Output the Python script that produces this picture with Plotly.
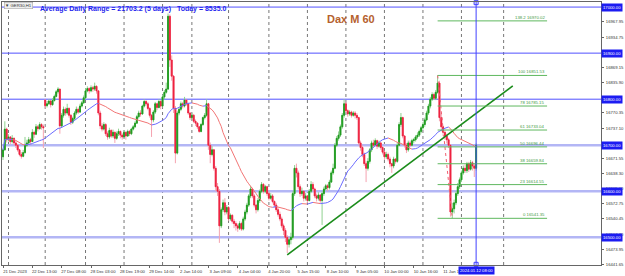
import numpy as np
import pandas as pd
import plotly.graph_objects as go

# ---------------- data ----------------
first_open = 16675
gap_bars = [23]
gap_opens = [16798]

closes = [
    16690, 16735, 16712, 16718, 16708, 16715, 16705, 16700, 16690, 16680, 16676, 16684, 16700, 16705, 16712, 16708,
    16728, 16724, 16740, 16736, 16745, 16740, 16738, 16786, 16790, 16796, 16788, 16797, 16806, 16816, 16822, 16742,
    16765, 16778, 16770, 16780, 16765, 16750, 16758, 16770, 16778, 16772, 16785, 16792, 16803, 16818, 16823, 16818,
    16825, 16822, 16828, 16818, 16770, 16742, 16735, 16745, 16725, 16718, 16732, 16720, 16728, 16715, 16725, 16730,
    16722, 16718, 16728, 16720, 16730, 16725, 16735, 16740, 16748, 16762, 16770, 16768, 16785, 16795, 16790, 16780,
    16765, 16755, 16772, 16790, 16782, 16795, 16785, 16805, 16815, 16822, 16980, 16885, 16850, 16780, 16683, 16770,
    16778, 16790, 16785, 16798, 16790, 16770, 16760, 16765, 16752, 16748, 16740, 16730, 16745, 16760, 16765, 16790,
    16700, 16680, 16690, 16650, 16610, 16600, 16525, 16560, 16575, 16555, 16565, 16540, 16548, 16535, 16530, 16525,
    16520, 16530, 16518, 16540, 16555, 16570, 16590, 16605, 16590, 16570, 16560, 16580, 16600, 16615, 16600, 16610,
    16595, 16585, 16590, 16578, 16570, 16560, 16550, 16540, 16525, 16515, 16500, 16485, 16495, 16500, 16595, 16650,
    16640, 16610, 16595, 16600, 16585, 16590, 16580, 16600, 16615, 16605, 16590, 16585, 16592, 16580, 16595, 16605,
    16612, 16608, 16620, 16640, 16650, 16700, 16715, 16722, 16740, 16765, 16790, 16775, 16768, 16772, 16765, 16770,
    16765, 16760, 16705, 16695, 16680, 16660, 16650, 16665, 16690, 16705, 16700, 16710, 16698, 16705, 16695, 16685,
    16675, 16680, 16670, 16660, 16655, 16670, 16665, 16700, 16745, 16760, 16720, 16700, 16690, 16705, 16700, 16710,
    16712, 16718, 16722, 16730, 16738, 16745, 16755, 16770, 16785, 16800, 16810, 16802, 16815, 16835, 16760, 16740,
    16728, 16720, 16712, 16700, 16555, 16562, 16575, 16595, 16610, 16625, 16640, 16650, 16645, 16660, 16648, 16662,
    16655, 16650, 16700,
]
highs = [
    16695, 16752, 16738, 16724, 16720, 16722, 16717, 16710, 16703, 16692, 16685, 16690, 16718, 16712, 16718, 16716,
    16735, 16732, 16746, 16744, 16750, 16748, 16745, 16800, 16796, 16800, 16798, 16802, 16810, 16820, 16826, 16822,
    16770, 16784, 16782, 16790, 16782, 16768, 16762, 16774, 16784, 16782, 16790, 16796, 16808, 16824, 16828, 16826,
    16830, 16829, 16836, 16830, 16820, 16775, 16748, 16750, 16748, 16730, 16738, 16735, 16734, 16730, 16730, 16736,
    16732, 16726, 16732, 16730, 16734, 16733, 16738, 16744, 16752, 16766, 16775, 16776, 16788, 16800, 16798, 16794,
    16782, 16768, 16776, 16794, 16792, 16800, 16798, 16810, 16820, 16836, 16986, 16984, 16895, 16852, 16785, 16775,
    16782, 16795, 16794, 16805, 16800, 16792, 16772, 16770, 16768, 16756, 16750, 16742, 16748, 16762, 16770, 16800,
    16792, 16706, 16698, 16692, 16655, 16618, 16605, 16565, 16582, 16585, 16570, 16568, 16552, 16550, 16540, 16535,
    16530, 16535, 16534, 16545, 16560, 16575, 16594, 16612, 16608, 16594, 16572, 16585, 16604, 16620, 16618, 16614,
    16612, 16600, 16596, 16594, 16580, 16575, 16565, 16556, 16545, 16530, 16520, 16505, 16500, 16510, 16600, 16657,
    16660, 16645, 16615, 16608, 16602, 16596, 16592, 16605, 16622, 16620, 16608, 16595, 16598, 16594, 16600, 16610,
    16616, 16616, 16625, 16645, 16660, 16705, 16720, 16730, 16745, 16770, 16800, 16795, 16778, 16776, 16775, 16774,
    16774, 16770, 16762, 16710, 16700, 16684, 16665, 16672, 16694, 16710, 16712, 16715, 16712, 16710, 16708, 16698,
    16688, 16686, 16684, 16675, 16662, 16675, 16672, 16705, 16750, 16770, 16762, 16722, 16705, 16710, 16710, 16714,
    16716, 16722, 16728, 16734, 16742, 16750, 16760, 16775, 16790, 16805, 16815, 16814, 16820, 16851.53, 16840, 16770,
    16742, 16732, 16725, 16716, 16702, 16575, 16582, 16600, 16618, 16630, 16645, 16656, 16658, 16664, 16664, 16668,
    16666, 16660, 16704,
]
lows = [
    16668, 16688, 16706, 16708, 16702, 16704, 16700, 16694, 16686, 16676, 16671, 16674, 16682, 16696, 16702, 16702,
    16718, 16716, 16722, 16730, 16734, 16734, 16694, 16780, 16782, 16788, 16782, 16786, 16795, 16804, 16812, 16725,
    16738, 16760, 16764, 16766, 16760, 16744, 16746, 16754, 16766, 16768, 16770, 16782, 16790, 16800, 16815, 16812,
    16815, 16816, 16818, 16812, 16765, 16735, 16730, 16732, 16720, 16712, 16714, 16716, 16716, 16705, 16712, 16720,
    16715, 16712, 16716, 16712, 16718, 16720, 16722, 16732, 16738, 16746, 16758, 16762, 16766, 16782, 16786, 16776,
    16760, 16718, 16750, 16768, 16776, 16780, 16778, 16782, 16800, 16812, 16820, 16870, 16840, 16770, 16661, 16680,
    16765, 16774, 16780, 16782, 16786, 16766, 16755, 16755, 16748, 16742, 16735, 16727, 16728, 16742, 16756, 16762,
    16690, 16661, 16676, 16645, 16600, 16590, 16488, 16520, 16555, 16548, 16550, 16536, 16536, 16530, 16520, 16515,
    16512, 16516, 16514, 16515, 16536, 16550, 16566, 16585, 16585, 16565, 16552, 16556, 16575, 16596, 16595, 16596,
    16590, 16580, 16582, 16574, 16565, 16555, 16545, 16535, 16520, 16505, 16490, 16466, 16478, 16485, 16495, 16590,
    16630, 16604, 16588, 16590, 16578, 16580, 16575, 16578, 16596, 16600, 16585, 16578, 16580, 16575, 16527, 16590,
    16602, 16600, 16604, 16618, 16636, 16648, 16696, 16710, 16718, 16736, 16760, 16770, 16762, 16764, 16760, 16762,
    16758, 16755, 16700, 16688, 16674, 16655, 16620, 16645, 16660, 16685, 16694, 16698, 16692, 16695, 16690, 16680,
    16668, 16670, 16665, 16652, 16640, 16650, 16660, 16662, 16698, 16740, 16715, 16695, 16683, 16686, 16696, 16698,
    16704, 16708, 16714, 16718, 16726, 16734, 16740, 16752, 16766, 16780, 16796, 16798, 16798, 16812, 16752, 16730,
    16720, 16712, 16704, 16694, 16545, 16541.35, 16552, 16570, 16590, 16605, 16620, 16636, 16640, 16640, 16642, 16645,
    16645, 16631, 16645,
]

x_tick_bars = [0, 16, 32, 48, 64, 80, 96, 112, 128, 144, 160, 176, 192, 208, 224, 240]
x_tick_text = ["21 Dec 2023", "22 Dec 13:00", "27 Dec 08:00", "28 Dec 03:00", "28 Dec 19:00",
               "29 Dec 14:00", "2 Jan 14:00", "3 Jan 09:00", "4 Jan 04:00", "4 Jan 20:00",
               "5 Jan 15:00", "8 Jan 10:00", "9 Jan 05:00", "10 Jan 00:00", "10 Jan 16:00",
               "11 Jan 11:00"]
day_start_bars = [3, 23, 45, 66, 87, 103, 123, 145, 166, 187, 208, 229, 250, 273]

y_tick_vals = [16967.95, 16934.75, 16869.15, 16835.90, 16770.35, 16737.10, 16671.55,
               16638.30, 16605.00, 16572.75, 16540.45, 16507.20, 16473.95, 16441.65]
strong_levels = [17000, 16900, 16800]
soft_levels = [16700, 16600, 16500]

fib_names = ["138.2", "100", "78", "61", "50", "38", "23", "0"]
fib_prices = [16970.02, 16851.53, 16785.15, 16733.04, 16696.44, 16659.84, 16614.55, 16541.35]
fib_from_bar = 237
fib_to_bar = 296.7
fib_low_bar = 245

trend_bars = [155, 278]
trend_prices = [16462, 16829]

current_bar = 258
current_label = "2024.01.12 08:00"
ma_period = 30

title_text = "Average Daily Range = 21703.2 (5 days)   Today = 8535.0"
symbol_text = "\u25BC GER30,H1"
chart_name = "Dax M 60"

# ---------------- build ----------------
n = len(closes)
bars = list(range(n))
opens = [first_open] + closes[:-1]
for b, o in zip(gap_bars, gap_opens):
    opens[b] = o
highs = [max(h, o, c) for h, o, c in zip(highs, opens, closes)]
lows = [min(l, o, c) for l, o, c in zip(lows, opens, closes)]
body_hi = [max(o, c) for o, c in zip(opens, closes)]
body_lo = [min(o, c) for o, c in zip(opens, closes)]

ma = pd.Series(closes, dtype=float).rolling(ma_period, min_periods=1).mean().tolist()
up = [ma[i + 1] >= ma[i] for i in range(n - 1)]
ma_blue = [None] * n
ma_red = [None] * n
for i, u in enumerate(up):
    tgt = ma_blue if u else ma_red
    tgt[i] = ma[i]
    tgt[i + 1] = ma[i + 1]

Y0, Y1 = 16440, 17011
X0, X1 = -0.55, 326.1

fig = go.Figure()

# wicks (light)
fig.add_trace(go.Candlestick(
    x=bars, open=opens, high=highs, low=lows, close=closes,
    increasing=dict(line=dict(color="#8fd18f", width=1), fillcolor="#8fd18f"),
    decreasing=dict(line=dict(color="#f5a3b0", width=1), fillcolor="#f5a3b0"),
    whiskerwidth=0, hoverinfo="skip", showlegend=False))
# bodies (dark)
fig.add_trace(go.Candlestick(
    x=bars, open=opens, high=body_hi, low=body_lo, close=closes,
    increasing=dict(line=dict(color="#1e9a1e", width=0.8), fillcolor="#1e9a1e"),
    decreasing=dict(line=dict(color="#ee1f3d", width=0.8), fillcolor="#ee1f3d"),
    whiskerwidth=0, hoverinfo="skip", showlegend=False))

fig.add_trace(go.Scatter(x=bars, y=ma_red, mode="lines", line=dict(color="#f27575", width=1),
                         hoverinfo="skip", showlegend=False, connectgaps=False))
fig.add_trace(go.Scatter(x=bars, y=ma_blue, mode="lines", line=dict(color="#6b6bff", width=1),
                         hoverinfo="skip", showlegend=False, connectgaps=False))

# fib base line (dotted)
fig.add_trace(go.Scatter(x=[fib_from_bar, fib_low_bar], y=[fib_prices[1], fib_prices[-1]], mode="lines",
                         line=dict(color="#f06070", width=1, dash="dot"), hoverinfo="skip", showlegend=False))
# trend line
fig.add_trace(go.Scatter(x=trend_bars, y=trend_prices, mode="lines",
                         line=dict(color="#1b8c1b", width=1.6), hoverinfo="skip", showlegend=False))
# current time marker ends
fig.add_trace(go.Scatter(x=[current_bar, current_bar], y=[Y1 - 1.5, Y0 + 1.5], mode="markers",
                         marker=dict(symbol="square-open", size=4, color="#3b3bff", line=dict(width=1)),
                         cliponaxis=False, hoverinfo="skip", showlegend=False))

shapes = []
for d in day_start_bars:
    shapes.append(dict(type="line", xref="x", yref="paper", x0=d, x1=d, y0=0, y1=1,
                       line=dict(color="#777777", width=1, dash="dot"), layer="below"))
for lv in strong_levels:
    shapes.append(dict(type="line", xref="paper", yref="y", x0=0, x1=1, y0=lv, y1=lv,
                       line=dict(color="#5050ff", width=1), layer="below"))
for lv in soft_levels:
    shapes.append(dict(type="line", xref="paper", yref="y", x0=0, x1=1, y0=lv, y1=lv,
                       line=dict(color="#b3b6f5", width=2.5), layer="below"))
for fp in fib_prices:
    shapes.append(dict(type="line", xref="x", yref="y", x0=fib_from_bar, x1=fib_to_bar, y0=fp, y1=fp,
                       line=dict(color="#5fb85f", width=1), layer="above"))
shapes.append(dict(type="line", xref="x", yref="paper", x0=current_bar, x1=current_bar, y0=0, y1=1,
                   line=dict(color="#4040ff", width=1), layer="above"))

annotations = []
for name, fp in zip(fib_names, fib_prices):
    annotations.append(dict(x=fib_to_bar, y=fp, xref="x", yref="y", xanchor="right", yanchor="bottom",
                            text=f"{name} {fp:.2f}", showarrow=False,
                            font=dict(family="Arial", size=4.3, color="#3f9a3f"), yshift=-1))
for lv in strong_levels + soft_levels:
    annotations.append(dict(x=1, y=lv, xref="paper", yref="y", xanchor="left", yanchor="middle",
                            text=f"{lv:.2f}", showarrow=False, bgcolor="#1c1cf2", borderpad=1,
                            font=dict(family="Arial", size=4.2, color="white")))
annotations.append(dict(x=current_bar, y=0, xref="x", yref="paper", xanchor="center", yanchor="top",
                        yshift=-1, text=current_label, showarrow=False, bgcolor="#1c1cf2", borderpad=1,
                        font=dict(family="Arial", size=4.2, color="white")))
annotations.append(dict(x=0.003, y=0.999, xref="paper", yref="paper", xanchor="left", yanchor="top",
                        text=symbol_text, showarrow=False, bgcolor="#eeeeee", bordercolor="#999999",
                        borderwidth=0.5, borderpad=0.5,
                        font=dict(family="Arial", size=4.3, color="#333333")))
annotations.append(dict(x=36 / 601, y=1, xref="paper", yref="paper", xanchor="left", yanchor="top",
                        yshift=-0.5, text=f"<b>{title_text}</b>", showarrow=False,
                        font=dict(family="Arial", size=7, color="#1f1fee")))
annotations.append(dict(x=324 / 601, y=1, xref="paper", yref="paper", xanchor="left", yanchor="top",
                        yshift=-9, text=f"<b>{chart_name}</b>", showarrow=False,
                        font=dict(family="Arial", size=11, color="#b5612e")))

fig.update_layout(
    width=625, height=276,
    margin=dict(l=1, r=23, t=2, b=11),
    paper_bgcolor="white", plot_bgcolor="white",
    showlegend=False, boxgap=0.25,
    shapes=shapes, annotations=annotations,
    xaxis=dict(range=[X0, X1], rangeslider=dict(visible=False), showgrid=False, zeroline=False,
               showline=True, mirror=True, linecolor="#666666", linewidth=1,
               ticks="outside", ticklen=2, tickcolor="#666666",
               tickvals=x_tick_bars, ticktext=x_tick_text, ticklabelshift=12, ticklabelstandoff=0,
               tickfont=dict(family="Arial", size=4.2, color="#333333")),
    yaxis=dict(range=[Y0, Y1], side="right", showgrid=False, zeroline=False,
               showline=True, mirror=True, linecolor="#666666", linewidth=1,
               ticks="outside", ticklen=2, tickcolor="#666666",
               tickvals=y_tick_vals, ticktext=[f"{v:.2f}" for v in y_tick_vals], ticklabelstandoff=1,
               tickfont=dict(family="Arial", size=4.2, color="#333333")),
)

fig.write_html("out.html")
